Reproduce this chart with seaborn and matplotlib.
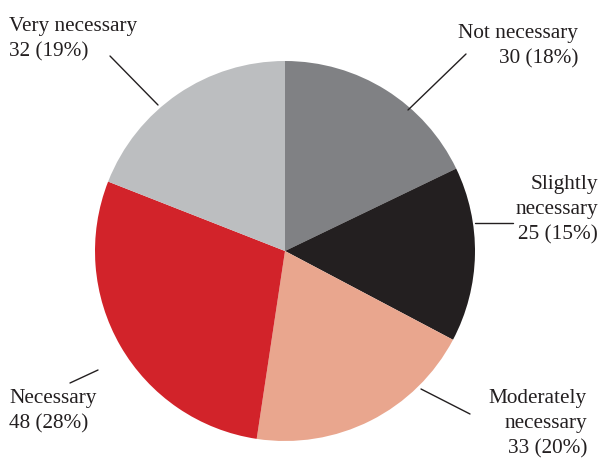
import numpy as np
import matplotlib
matplotlib.use('Agg')
import matplotlib.pyplot as plt
import seaborn as sns

categories = ['Not necessary', 'Slightly necessary', 'Moderately necessary', 'Necessary', 'Very necessary']
counts = [30, 25, 33, 48, 32]
percents = [18, 15, 20, 28, 19]
colors = ['#808184', '#231f20', '#e9a68e', '#d2232a', '#bcbec0']

sns.set_theme(style='white')
plt.rcParams['font.family'] = ['Liberation Serif', 'DejaVu Serif']

W, H = 601, 459
fig = plt.figure(figsize=(W / 100, H / 100), dpi=100)
ax = fig.add_axes([0, 0, 1, 1])

# pie in pixel coords (y flipped)
cx, cy, r = 285, H - 251, 190
ax.pie(counts, colors=colors, startangle=90, counterclock=False,
       center=(cx, cy), radius=r, frame=True, wedgeprops=dict(linewidth=0))
ax.set_xlim(0, W)
ax.set_ylim(0, H)
ax.set_aspect('equal')
ax.axis('off')

def py(y):
    return H - y

lab_text = [
    'Not necessary\n{} ({}%)'.format(counts[0], percents[0]),
    'Slightly\nnecessary\n{} ({}%)'.format(counts[1], percents[1]),
    'Moderately\nnecessary\n{} ({}%)'.format(counts[2], percents[2]),
    'Necessary\n{} ({}%)'.format(counts[3], percents[3]),
    'Very necessary\n{} ({}%)'.format(counts[4], percents[4]),
]
# (x, y_top, ha) in pixels
lab_pos = [(578, 24, 'right'), (598, 175, 'right'), (587, 389, 'right'),
           (9, 389, 'left'), (9, 17, 'left')]
lines = [((466, 54), (408, 110)), ((475, 223), (513, 223)), ((421, 389), (470, 414)),
         ((70, 383), (98, 370)), ((110, 56), (158, 105))]

for t, (x, y, ha), (p1, p2) in zip(lab_text, lab_pos, lines):
    ax.text(x, py(y), t, ha=ha, va='top', fontsize=15.3, color='#231f20',
            linespacing=1.42, multialignment=ha)
    ax.plot([p1[0], p2[0]], [py(p1[1]), py(p2[1])], color='#231f20', lw=1)

fig.savefig('out.png', dpi=100)
